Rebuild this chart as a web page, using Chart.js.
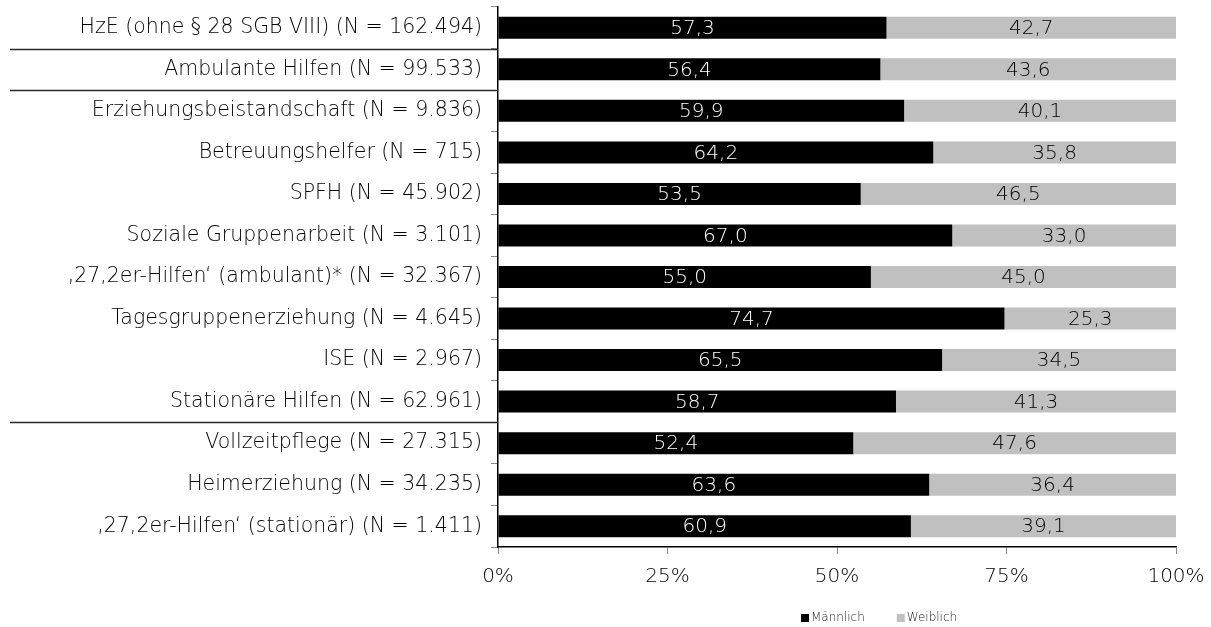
<!DOCTYPE html>
<html>
<head>
<meta charset="utf-8">
<script src="https://cdn.jsdelivr.net/npm/chart.js@4"></script>
<style>
  html, body { margin: 0; padding: 0; background: #fff; }
  #wrap { width: 1211px; height: 627px; position: relative; }
</style>
</head>
<body>
<div id="wrap"><canvas id="c" width="1211" height="627"></canvas></div>
<script>
// Hilfearten mit Fallzahlen
const categories = [
  'HzE (ohne § 28 SGB VIII) (N = 162.494)',
  'Ambulante Hilfen (N = 99.533)',
  'Erziehungsbeistandschaft (N = 9.836)',
  'Betreuungshelfer (N = 715)',
  'SPFH (N = 45.902)',
  'Soziale Gruppenarbeit (N = 3.101)',
  '‚27,2er-Hilfen‘ (ambulant)* (N = 32.367)',
  'Tagesgruppenerziehung (N = 4.645)',
  'ISE (N = 2.967)',
  'Stationäre Hilfen (N = 62.961)',
  'Vollzeitpflege (N = 27.315)',
  'Heimerziehung (N = 34.235)',
  '‚27,2er-Hilfen‘ (stationär) (N = 1.411)'
];
// Anteile in Prozent
const maennlich = [57.3, 56.4, 59.9, 64.2, 53.5, 67.0, 55.0, 74.7, 65.5, 58.7, 52.4, 63.6, 60.9];
const weiblich  = [42.7, 43.6, 40.1, 35.8, 46.5, 33.0, 45.0, 25.3, 34.5, 41.3, 47.6, 36.4, 39.1];
const seriesNames = ['Männlich', 'Weiblich'];
const xTicks = [0, 25, 50, 75, 100];
// Zeilen, unter denen eine Trennlinie durch die Beschriftung läuft
const separatorsAfter = [0, 1, 9];

const FONT = "'DejaVu Sans', sans-serif";
const W = 200;
const TEXT = '#000000';
const COLORS = ['#000000', '#c0c0c0'];

// Werte mittig in die Balkensegmente schreiben
const valueLabels = {
  id: 'valueLabels',
  afterDatasetsDraw(chart) {
    const ctx = chart.ctx;
    ctx.save();
    ctx.font = W + ' 20px ' + FONT;
    ctx.textAlign = 'center';
    ctx.textBaseline = 'middle';
    chart.data.datasets.forEach((ds, di) => {
      const meta = chart.getDatasetMeta(di);
      meta.data.forEach((bar, i) => {
        const v = ds.data[i];
        const x = (bar.x + bar.base) / 2;
        ctx.fillStyle = di === 0 ? '#ffffff' : TEXT;
        ctx.fillText(v.toFixed(1).replace('.', ','), x, bar.y + 1);
      });
    });
    ctx.restore();
  }
};

// Trennlinien zwischen den Hilfegruppen und Legende
const extras = {
  id: 'extras',
  afterDraw(chart) {
    const ctx = chart.ctx;
    const y = chart.scales.y;
    const left = chart.chartArea.left;
    ctx.save();
    ctx.strokeStyle = '#2a2a2a';
    ctx.lineWidth = 1.4;
    separatorsAfter.forEach(i => {
      const py = Math.round((y.getPixelForValue(i) + y.getPixelForValue(i + 1)) / 2) + 0.5;
      ctx.beginPath();
      ctx.moveTo(10, py);
      ctx.lineTo(left, py);
      ctx.stroke();
    });
    // Legende
    ctx.font = W + ' 12px ' + FONT;
    ctx.textBaseline = 'middle';
    ctx.textAlign = 'left';
    let lx = 801;
    const ly = 618;
    seriesNames.forEach((name, k) => {
      ctx.fillStyle = COLORS[k];
      ctx.fillRect(lx, ly - 4, 8, 8);
      ctx.fillStyle = '#222';
      ctx.fillText(name, lx + 10, ly);
      lx += 10 + ctx.measureText(name).width + 32;
    });
    ctx.restore();
  }
};

new Chart(document.getElementById('c'), {
  type: 'bar',
  data: {
    labels: categories,
    datasets: [
      { label: seriesNames[0], data: maennlich, backgroundColor: COLORS[0] },
      { label: seriesNames[1], data: weiblich, backgroundColor: COLORS[1] }
    ]
  },
  options: {
    indexAxis: 'y',
    responsive: false,
    animation: false,
    devicePixelRatio: 1,
    datasets: { bar: { categoryPercentage: 1, barPercentage: 0.53 } },
    layout: { padding: { top: 7, right: 35, left: 0, bottom: 0 } },
    plugins: { legend: { display: false }, tooltip: { enabled: false } },
    scales: {
      x: {
        stacked: true,
        min: 0, max: 100,
        afterBuildTicks(scale) { scale.ticks = xTicks.map(v => ({ value: v })); },
        afterFit(scale) {
          scale.height = 80;
          scale.paddingLeft = 0;
          scale.paddingRight = 0;
        },
        border: { display: true, color: '#000', width: 1.5 },
        grid: { drawOnChartArea: false, drawTicks: true, tickLength: 7, tickColor: '#888' },
        ticks: {
          color: TEXT,
          font: { family: FONT, size: 20, weight: W },
          padding: 11,
          maxRotation: 0,
          callback: v => v + '%'
        }
      },
      y: {
        stacked: true,
        afterFit(scale) {
          scale.width = 498;
          scale.paddingTop = 0;
          scale.paddingBottom = 0;
        },
        border: { display: true, color: '#000', width: 1.5 },
        grid: { offset: true, drawOnChartArea: false, drawTicks: true, tickLength: 7, tickColor: '#888' },
        ticks: {
          color: TEXT,
          font: { family: FONT, size: 20.5, weight: W },
          padding: 9,
          autoSkip: false
        }
      }
    }
  },
  plugins: [valueLabels, extras]
});
</script>
</body>
</html>
